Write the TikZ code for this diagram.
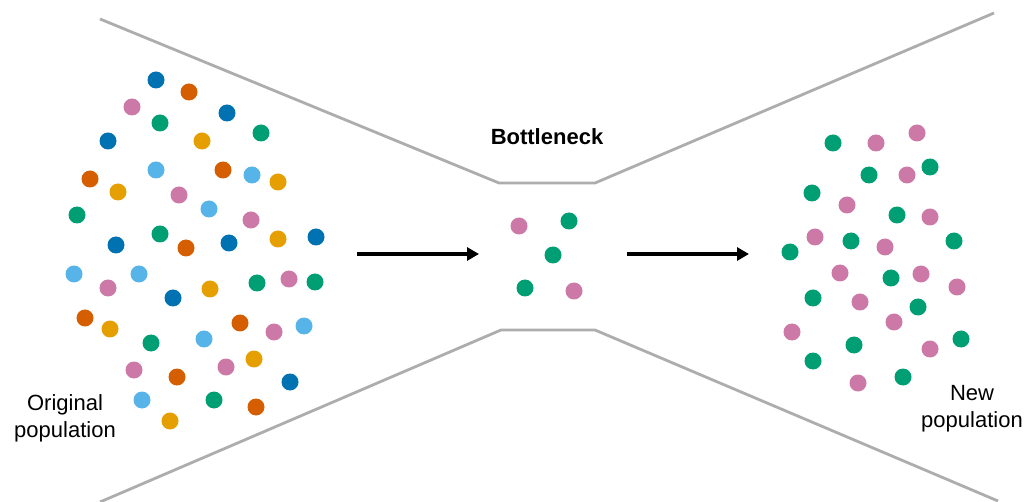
\documentclass[tikz,border=0pt]{standalone}
\usepackage{fontspec}
\setmainfont{Liberation Sans}
\usetikzlibrary{arrows.meta}
\definecolor{cblue}{HTML}{0072B2}
\definecolor{corange}{HTML}{D55E00}
\definecolor{cpink}{HTML}{CC79A7}
\definecolor{cgreen}{HTML}{009E73}
\definecolor{cyellow}{HTML}{E69F00}
\definecolor{clblue}{HTML}{56B4E9}
\definecolor{funnelgray}{HTML}{ADADAD}
\tikzset{
  funnel/.style={draw=funnelgray, line width=2.8pt, line join=miter},
  dot/.style={circle, fill=#1, minimum size=17pt, inner sep=0pt, draw=none},
  flow/.style={draw=black, line width=3.6pt, -{Triangle[length=12pt,width=13pt]}},
  label/.style={align=center, font=\fontsize{22}{27}\selectfont, inner sep=0pt},
  title/.style={font=\fontsize{22}{27}\selectfont\bfseries, inner sep=0pt}
}
\begin{document}
\begin{tikzpicture}[x=1pt,y=-1pt]
\useasboundingbox (0,0) rectangle (1030,502);
% funnel
\coordinate (tl) at (100,19);
\coordinate (tnl) at (499,183);
\coordinate (tnr) at (595,183);
\coordinate (tr) at (994,13);
\coordinate (bl) at (100,502);
\coordinate (bnl) at (501,330);
\coordinate (bnr) at (595,330);
\coordinate (br) at (998,501);
\draw[funnel] (tl) -- (tnl) -- (tnr) -- (tr);
\draw[funnel] (bl) -- (bnl) -- (bnr) -- (br);
% original population
\foreach \x/\y/\c [count=\i] in {
156/80/cblue, 189/92/corange, 132/107/cpink, 227/113/cblue, 160/123/cgreen,
261/133/cgreen, 108/141/cblue, 202/141/cyellow, 156/170/clblue, 223/170/corange,
252/175/clblue, 278/182/cyellow, 90/179/corange, 118/192/cyellow, 179/195/cpink,
209/209/clblue, 77/215/cgreen, 251/220/cpink, 160/234/cgreen, 278/239/cyellow,
316/237/cblue, 116/245/cblue, 186/248/corange, 229/243/cblue, 74/274/clblue,
139/274/clblue, 108/288/cpink, 173/298/cblue, 210/289/cyellow, 257/283/cgreen,
289/279/cpink, 315/282/cgreen, 85/318/corange, 110/329/cyellow, 151/343/cgreen,
204/339/clblue, 240/323/corange, 274/332/cpink, 304/326/clblue, 134/370/cpink,
177/377/corange, 226/367/cpink, 254/359/cyellow, 290/382/cblue, 142/400/clblue,
214/400/cgreen, 256/407/corange, 170/421/cyellow}
  \node[dot=\c] (o\i) at (\x,\y) {};
% bottleneck
\foreach \x/\y/\c [count=\i] in {
519/226/cpink, 569/221/cgreen, 553/255/cgreen, 525/288/cgreen, 574/291/cpink}
  \node[dot=\c] (b\i) at (\x,\y) {};
% new population
\foreach \x/\y/\c [count=\i] in {
833/143/cgreen, 876/143/cpink, 917/133/cpink, 869/175/cgreen, 907/175/cpink,
930/167/cgreen, 812/193/cgreen, 847/205/cpink, 897/215/cgreen, 930/217/cpink,
815/237/cpink, 851/241/cgreen, 885/247/cpink, 954/241/cgreen, 790/252/cgreen,
840/273/cpink, 891/278/cgreen, 921/274/cpink, 957/287/cpink, 813/298/cgreen,
860/302/cpink, 918/307/cgreen, 894/322/cpink, 792/332/cpink, 854/345/cgreen,
930/349/cpink, 961/339/cgreen, 813/361/cgreen, 858/383/cpink, 903/377/cgreen}
  \node[dot=\c] (n\i) at (\x,\y) {};
% labels
\node[title] (bneck) at (547,137) {Bottleneck};
\node[label] (orig) at (65,418) {Original\\population};
\node[label] (newp) at (972,409) {New\\population};
% arrows
\coordinate (a1s) at (357,254);
\coordinate (a1e) at (479,254);
\coordinate (a2s) at (627,254);
\coordinate (a2e) at (749,254);
\draw[flow] (a1s) -- (a1e);
\draw[flow] (a2s) -- (a2e);
\end{tikzpicture}
\end{document}
